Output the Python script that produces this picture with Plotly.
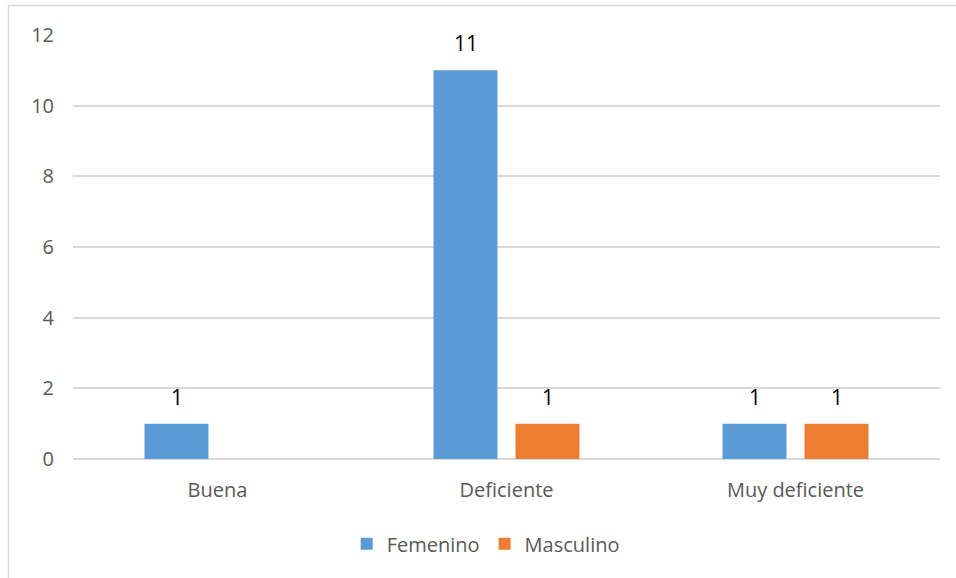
import plotly.graph_objects as go

categories = ["Buena", "Deficiente", "Muy deficiente"]
femenino = [1, 11, 1]
masculino = [0, 1, 1]
series_names = ["Femenino", "Masculino"]
colors = ["#5B9BD5", "#ED7D31"]
y_ticks = [0, 2, 4, 6, 8, 10, 12]

FONT = "Open Sans"

fig = go.Figure()
for name, vals, col in zip(series_names, [femenino, masculino], colors):
    fig.add_trace(go.Bar(x=categories, y=vals, name=name, marker_color=col,
                         marker_line_width=0))

# data labels (skip zero values)
for vals, shift in [(femenino, -41), (masculino, 41)]:
    for c, v in zip(categories, vals):
        if v:
            fig.add_annotation(x=c, y=v, xref="x", yref="y", text=str(v),
                               showarrow=False, xshift=shift, yshift=27,
                               yanchor="middle",
                               font=dict(family=FONT, size=21, color="#000000"))

fig.add_shape(type="rect", xref="paper", yref="paper",
              x0=-0.0744, x1=1.02, y0=-0.35, y1=1.0696,
              line=dict(color="#D9D9D9", width=1.5), layer="below")

fig.update_layout(
    width=956, height=578,
    margin=dict(l=73, r=16, t=35, b=119),
    paper_bgcolor="white", plot_bgcolor="white",
    barmode="group", bargap=0.4325, bargroupgap=0.22,
    font=dict(family=FONT, size=20, color="#595959"),
    showlegend=True,
    legend=dict(orientation="h", x=0.476, xanchor="center", y=-0.2,
                yanchor="middle", font=dict(family=FONT, size=20, color="#595959"),
                traceorder="normal", itemwidth=30),
    xaxis=dict(showgrid=False, showline=False, zeroline=False,
               ticks="", ticklabelstandoff=17,
               tickfont=dict(family=FONT, size=20, color="#595959")),
    yaxis=dict(range=[0, 12], tickvals=y_ticks, showgrid=True,
               gridcolor="#D9D9D9", gridwidth=1.5, zeroline=True,
               zerolinecolor="#D9D9D9", zerolinewidth=1.5,
               showline=False, ticks="", ticklabelstandoff=18,
               tickfont=dict(family=FONT, size=20, color="#595959")),
)

fig.write_html("out.html")
